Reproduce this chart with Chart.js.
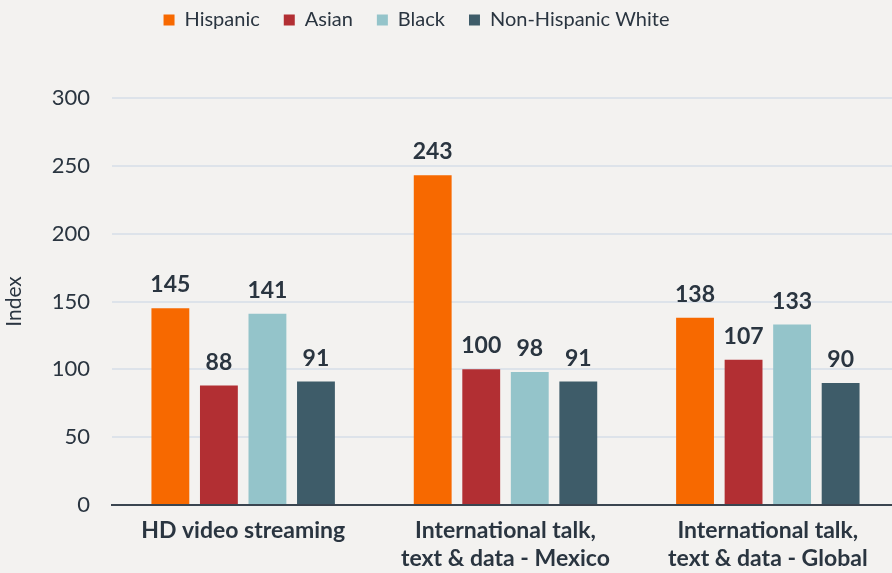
<!DOCTYPE html>
<html><head><meta charset="utf-8">
<script src="https://cdn.jsdelivr.net/npm/chart.js@4/dist/chart.umd.min.js"></script>
<style>html,body{margin:0;padding:0;background:#f3f2f0;overflow:hidden;}#wrap{width:892px;height:573px;overflow:hidden;}</style>
</head><body><div id="wrap"><canvas id="c" width="899" height="573"></canvas></div>
<script>
const categories = [["HD video streaming"], ["International talk,", "text & data - Mexico"], ["International talk,", "text & data - Global"]];
const seriesNames = ["Hispanic", "Asian", "Black", "Non-Hispanic White"];
const hispanic = [145, 243, 138];
const asian = [88, 100, 107];
const black = [141, 98, 133];
const white = [91, 91, 90];
const yTicks = [0, 50, 100, 150, 200, 250, 300];
const colors = ["#f76900", "#b22f33", "#94c4ca", "#3e5c69"];
const textColor = "#2a3540";
const font = "Lato, 'Open Sans', sans-serif";

const labelPlugin = {
  id: 'barLabels',
  afterDatasetsDraw(chart) {
    const ctx = chart.ctx;
    ctx.save();
    ctx.font = "bold 23px " + font;
    ctx.fillStyle = textColor;
    ctx.textAlign = 'center';
    ctx.textBaseline = 'alphabetic';
    chart.data.datasets.forEach((ds, i) => {
      chart.getDatasetMeta(i).data.forEach((bar, j) => {
        ctx.fillText(String(ds.data[j]), bar.x, bar.y - 16);
      });
    });
    ctx.restore();
  }
};
const bgPlugin = {
  id: 'bg',
  beforeDraw(chart) {
    const ctx = chart.ctx;
    ctx.save(); ctx.fillStyle = '#f3f2f0'; ctx.fillRect(0, 0, chart.width, chart.height); ctx.restore();
  }
};
const legendPlace = {
  id: 'legendPlace',
  afterInit(chart) {
    const lg = chart.legend;
    if (lg && !lg._patched) {
      const orig = lg.fit;
      lg.fit = function () { orig.call(this); this.height = 98; };
      lg._patched = true;
    }
  },
  afterLayout(chart) {
    const lg = chart.legend;
    lg.top = -14; lg.bottom = lg.top + 98;
    lg.left -= 33; lg.right -= 33;
  }
};

const dataArrays = [hispanic, asian, black, white];
new Chart(document.getElementById('c'), {
  type: 'bar',
  data: {
    labels: categories,
    datasets: seriesNames.map((n, i) => ({
      label: n, data: dataArrays[i], backgroundColor: colors[i],
      categoryPercentage: 0.74, barPercentage: 0.78
    }))
  },
  options: {
    responsive: false, animation: false,
    layout: { padding: 0 },
    plugins: {
      legend: {
        position: 'top',
        labels: { font: { family: font, size: 20 }, color: textColor, boxWidth: 11, boxHeight: 11, padding: 24 },
      },
      tooltip: { enabled: false }
    },
    scales: {
      x: {
        grid: { display: false, drawTicks: false },
        border: { color: '#3a4550', width: 2 },
        ticks: { font: { family: font, size: 23, weight: 'bold', lineHeight: 1.2 }, color: textColor, padding: 12, maxRotation: 0, autoSkip: false },
        afterFit(axis) { axis.height = 68; }
      },
      y: {
        min: 0, max: 300,
        afterBuildTicks(axis) { axis.ticks = yTicks.map(v => ({ value: v })); },
        grid: { color: '#dde3ea', lineWidth: 2, drawTicks: false },
        border: { display: false },
        ticks: { font: { family: font, size: 22 }, color: textColor, padding: 22 },
        title: { display: true, text: 'Index', font: { family: font, size: 21 }, color: textColor, padding: { top: 2, bottom: 8 } },
        afterFit(axis) { axis.width = 112; }
      }
    }
  },
  plugins: [bgPlugin, legendPlace, labelPlugin]
});
</script></body></html>
